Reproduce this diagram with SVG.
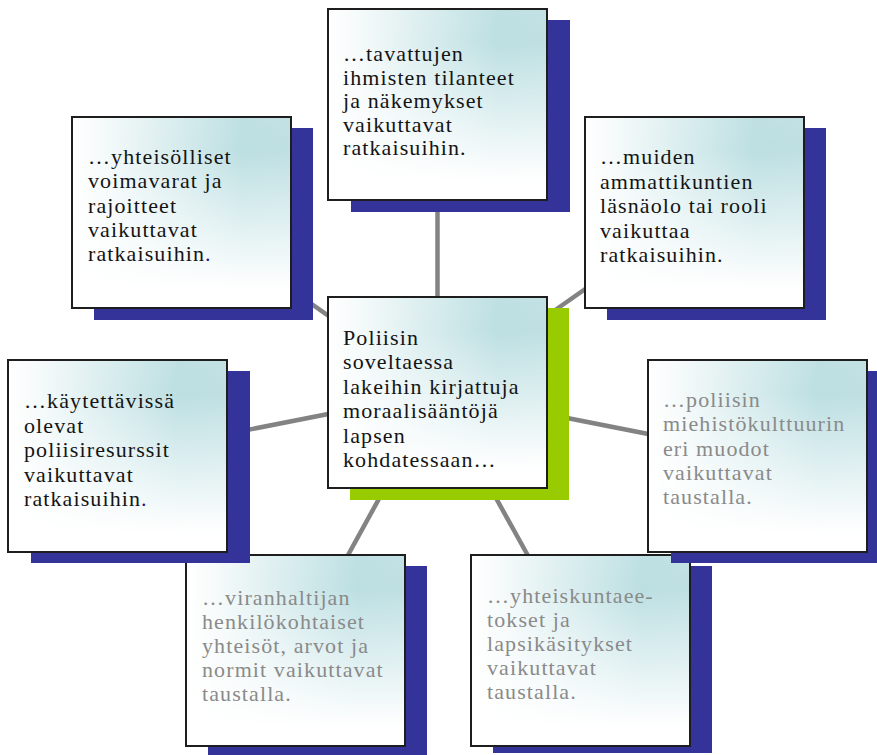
<svg xmlns="http://www.w3.org/2000/svg" width="877" height="755" viewBox="0 0 877 755">
<defs>
<linearGradient id="gh" x1="0" y1="0" x2="1" y2="0">
<stop offset="0" stop-color="#ffffff"/>
<stop offset="0.12" stop-color="#f7fbfb"/>
<stop offset="0.78" stop-color="#bcdfe2"/>
<stop offset="1" stop-color="#bfe0e3"/>
</linearGradient>
<linearGradient id="gv" x1="0" y1="0" x2="0" y2="1">
<stop offset="0" stop-color="#ffffff" stop-opacity="0.05"/>
<stop offset="0.18" stop-color="#ffffff" stop-opacity="0"/>
<stop offset="0.9" stop-color="#ffffff" stop-opacity="1"/>
<stop offset="1" stop-color="#ffffff" stop-opacity="1"/>
</linearGradient>
</defs>
<style>
.sh{fill:#333399}
.shg{fill:#99cc00}
.b1{fill:url(#gh)}
.b2{fill:url(#gv);stroke:#1e1e1e;stroke-width:2}
.t{font-family:"Liberation Serif","Times New Roman",serif;font-size:22px;letter-spacing:1.1px;fill:#141414}
.g{fill:#8a8a8a}
.dot{fill:#1a1a8c}
.ln{stroke:#838383;stroke-width:4.5;fill:none}
</style>
<rect width="877" height="755" fill="#ffffff"/>
<g id="connectors">
<line class="ln" x1="437.5" y1="392.5" x2="437.5" y2="104.5"/>
<line class="ln" x1="437.5" y1="392.5" x2="181.5" y2="212.5"/>
<line class="ln" x1="437.5" y1="392.5" x2="694.5" y2="212.5"/>
<line class="ln" x1="437.5" y1="392.5" x2="117.5" y2="455.5"/>
<line class="ln" x1="437.5" y1="392.5" x2="757.5" y2="455.5"/>
<line class="ln" x1="437.5" y1="392.5" x2="295.5" y2="650.5"/>
<line class="ln" x1="437.5" y1="392.5" x2="580.5" y2="650.5"/>
</g>
<g id="node-bottomleft">
<rect class="sh" x="208" y="566" width="219" height="191"/>
<rect class="b1" x="186" y="555" width="219" height="191"/>
<rect class="b2" x="186" y="555" width="219" height="191"/>
<text class="t g" x="202" y="605"><tspan x="202" y="605">…viranhaltijan</tspan><tspan x="202" y="629">henkilökohtaiset</tspan><tspan x="202" y="653">yhteisöt, arvot ja</tspan><tspan x="202" y="677">normit vaikuttavat</tspan><tspan x="202" y="701">taustalla.</tspan></text>
</g>
<g id="node-bottomright">
<rect class="sh" x="493" y="566" width="219" height="187"/>
<rect class="b1" x="471" y="555" width="219" height="191"/>
<rect class="b2" x="471" y="555" width="219" height="191"/>
<text class="t g" x="487" y="603"><tspan x="487" y="603">…yhteiskuntaee-</tspan><tspan x="487" y="627">tokset ja</tspan><tspan x="487" y="651">lapsikäsitykset</tspan><tspan x="487" y="675">vaikuttavat</tspan><tspan x="487" y="699">taustalla.</tspan></text>
</g>
<g id="node-top">
<rect class="sh" x="351" y="20" width="219" height="192"/>
<rect class="b1" x="328" y="9" width="219" height="191"/>
<rect class="b2" x="328" y="9" width="219" height="191"/>
<text class="t" x="343" y="61"><tspan x="343" y="61">…tavattujen</tspan><tspan x="343" y="84.5">ihmisten tilanteet</tspan><tspan x="343" y="108">ja näkemykset</tspan><tspan x="343" y="131.5">vaikuttavat</tspan><tspan x="343" y="155">ratkaisuihin.</tspan></text>
</g>
<g id="node-topleft">
<rect class="sh" x="94" y="128" width="219" height="192"/>
<rect class="b1" x="72" y="117" width="219" height="191"/>
<rect class="b2" x="72" y="117" width="219" height="191"/>
<text class="t" x="88" y="164"><tspan x="88" y="164">…yhteisölliset</tspan><tspan x="88" y="188.25">voimavarat ja</tspan><tspan x="88" y="212.5">rajoitteet</tspan><tspan x="88" y="236.75">vaikuttavat</tspan><tspan x="88" y="261">ratkaisuihin<tspan class="dot">.</tspan></tspan></text>
</g>
<g id="node-topright">
<rect class="sh" x="607" y="128" width="219" height="192"/>
<rect class="b1" x="585" y="117" width="219" height="191"/>
<rect class="b2" x="585" y="117" width="219" height="191"/>
<text class="t" x="600" y="164"><tspan x="600" y="164">…muiden</tspan><tspan x="600" y="188.5">ammattikuntien</tspan><tspan x="600" y="213">läsnäolo tai rooli</tspan><tspan x="600" y="237.5">vaikuttaa</tspan><tspan x="600" y="262">ratkaisuihin.</tspan></text>
</g>
<g id="node-left">
<rect class="sh" x="31" y="371" width="219" height="192"/>
<rect class="b1" x="8" y="360" width="219" height="192"/>
<rect class="b2" x="8" y="360" width="219" height="192"/>
<text class="t" x="24" y="408"><tspan x="24" y="408">…käytettävissä</tspan><tspan x="24" y="432.5">olevat</tspan><tspan x="24" y="457">poliisiresurssit</tspan><tspan x="24" y="481.5">vaikuttavat</tspan><tspan x="24" y="506">ratkaisuihin<tspan class="dot">.</tspan></tspan></text>
</g>
<g id="node-right">
<rect class="sh" x="671" y="371" width="219" height="192"/>
<rect class="b1" x="648" y="360" width="219" height="192"/>
<rect class="b2" x="648" y="360" width="219" height="192"/>
<text class="t g" x="663" y="407"><tspan x="663" y="407">…poliisin</tspan><tspan x="663" y="431.25">miehistökulttuurin</tspan><tspan x="663" y="455.5">eri muodot</tspan><tspan x="663" y="479.75">vaikuttavat</tspan><tspan x="663" y="504">taustalla.</tspan></text>
</g>
<g id="node-center">
<rect class="shg" x="350" y="308" width="219" height="192"/>
<rect class="b1" x="328" y="297" width="219" height="191"/>
<rect class="b2" x="328" y="297" width="219" height="191"/>
<text class="t" x="343" y="345"><tspan x="343" y="345">Poliisin</tspan><tspan x="343" y="369.4">soveltaessa</tspan><tspan x="343" y="393.8">lakeihin kirjattuja</tspan><tspan x="343" y="418.2">moraalisääntöjä</tspan><tspan x="343" y="442.6">lapsen</tspan><tspan x="343" y="467">kohdatessaan…</tspan></text>
</g>
</svg>
